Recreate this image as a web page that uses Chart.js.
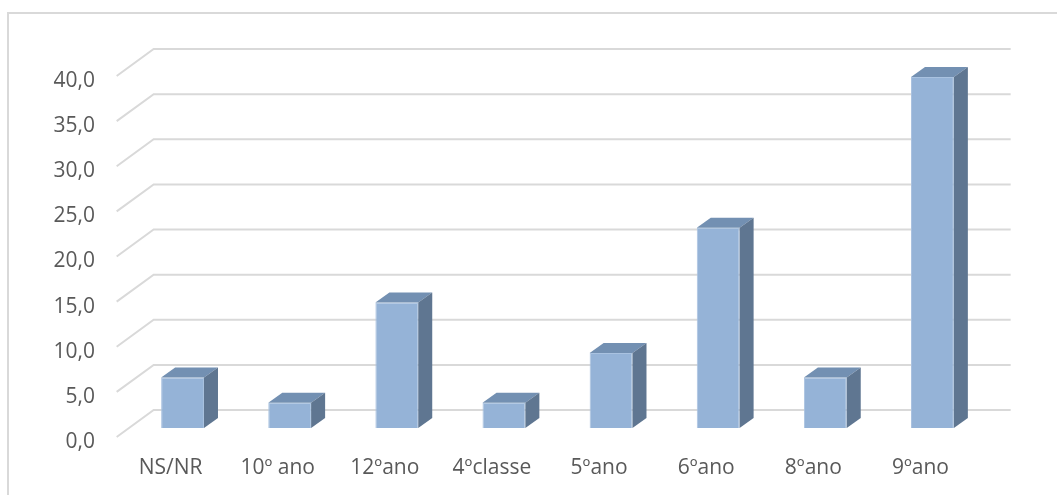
<!DOCTYPE html>
<html>
<head>
<meta charset="utf-8">
<script src="https://cdn.jsdelivr.net/npm/chart.js@4.4.0/dist/chart.umd.min.js"></script>
<style>
    body { margin: 0; background: #fff; }
    #wrap { position: relative; width: 1057px; height: 495px; }
    #frame {
        position: absolute; left: 7px; top: 12px; right: 0; bottom: 0;
        border-top: 2px solid #d9d9d9; border-left: 2px solid #d9d9d9;
    }
</style>
</head>
<body>
<div id="wrap">
    <div id="frame"></div>
    <canvas id="escolaridade"></canvas>
</div>
<script>
// Data
const categories = ['NS/NR', '10º ano', '12ºano', '4ºclasse', '5ºano', '6ºano', '8ºano', '9ºano'];
const percentages = [5.6, 2.8, 13.9, 2.8, 8.3, 22.2, 5.6, 38.9];
const yTicks = [0, 5, 10, 15, 20, 25, 30, 35, 40];

// Fake 3D: depth vector of the floor (front -> back) and where bars sit in it
const floorDx = 37, floorDy = -27;
const barPlane = 1 / 3;
const barDepthX = 14, barDepthY = -10;

const frontColor = '#95b3d7';
const topColor = '#7390b2';
const sideColor = '#5f7691';
const gridColor = '#d9d9d9';

const fake3d = {
    id: 'fake3d',
    beforeDatasetsDraw(chart) {
        const ctx = chart.ctx;
        const area = chart.chartArea;
        const y = chart.scales.y;
        const backX = floorDx * (1 - barPlane), backY = floorDy * (1 - barPlane);
        const frontX = -floorDx * barPlane, frontY = -floorDy * barPlane;
        ctx.save();
        ctx.strokeStyle = gridColor;
        ctx.lineWidth = 2;
        yTicks.forEach(v => {
            const py = y.getPixelForValue(v);
            ctx.beginPath();
            ctx.moveTo(area.left + frontX, py + frontY);
            ctx.lineTo(area.left + backX, py + backY);
            ctx.lineTo(area.right + backX, py + backY);
            ctx.stroke();
        });
        ctx.restore();
    },
    afterDatasetsDraw(chart) {
        const ctx = chart.ctx;
        const bars = chart.getDatasetMeta(0).data;
        ctx.save();
        bars.forEach(bar => {
            const l = bar.x - bar.width / 2, r = bar.x + bar.width / 2;
            const t = bar.y, b = bar.base;
            // top face
            ctx.fillStyle = topColor;
            ctx.beginPath();
            ctx.moveTo(l, t);
            ctx.lineTo(l + barDepthX, t + barDepthY);
            ctx.lineTo(r + barDepthX, t + barDepthY);
            ctx.lineTo(r, t);
            ctx.closePath();
            ctx.fill();
            // side face
            ctx.fillStyle = sideColor;
            ctx.beginPath();
            ctx.moveTo(r, t);
            ctx.lineTo(r + barDepthX, t + barDepthY);
            ctx.lineTo(r + barDepthX, b + barDepthY);
            ctx.lineTo(r, b);
            ctx.closePath();
            ctx.fill();
        });
        ctx.restore();
    }
};

const ctx = document.getElementById('escolaridade').getContext('2d');
const chart = new Chart(ctx, {
    type: 'bar',
    data: {
        labels: categories,
        datasets: [{
            data: percentages,
            backgroundColor: frontColor,
            borderColor: '#a9c2e0',
            borderWidth: 1,
            categoryPercentage: 1,
            barPercentage: 0.4
        }]
    },
    options: {
        responsive: true,
        maintainAspectRatio: false,
        animation: false,
        layout: {
            padding: { left: 0, right: 71, top: 67, bottom: 0 }
        },
        plugins: {
            legend: { display: false },
            tooltip: { enabled: false }
        },
        scales: {
            x: {
                grid: { display: false, drawTicks: false },
                border: { display: false },
                ticks: {
                    color: '#595959',
                    font: { family: "'Open Sans', sans-serif", size: 21 },
                    padding: 27,
                    labelOffset: -12,
                    maxRotation: 0
                },
                afterFit: scale => { scale.height = 67; }
            },
            y: {
                min: 0,
                max: 40,
                grid: { display: false, drawTicks: false },
                border: { display: false },
                ticks: {
                    stepSize: 5,
                    color: '#595959',
                    font: { family: "'Open Sans', sans-serif", size: 21 },
                    padding: 34,
                    labelOffset: 14,
                    callback: v => v.toFixed(1).replace('.', ',')
                },
                afterFit: scale => { scale.width = 129; }
            }
        }
    },
    plugins: [fake3d]
});
</script>
</body>
</html>
